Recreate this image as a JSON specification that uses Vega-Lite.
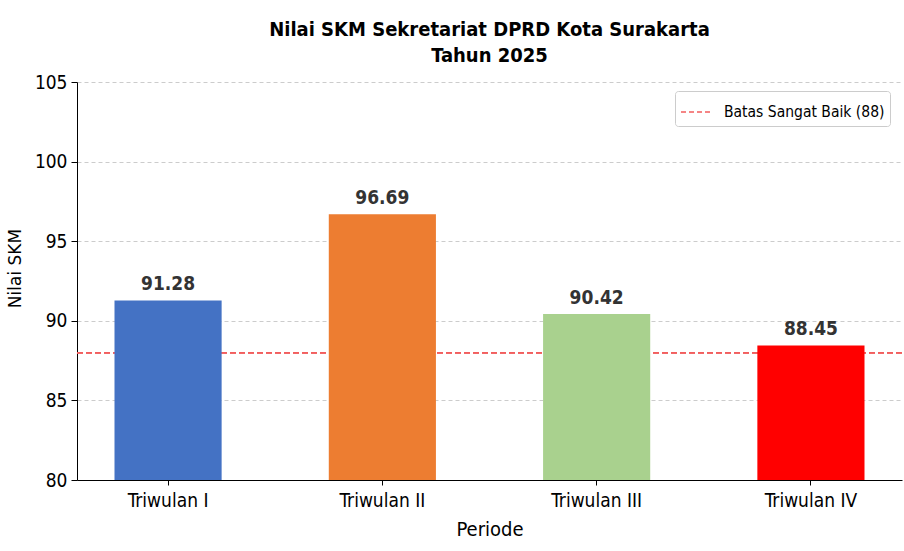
{
  "$schema": "https://vega.github.io/schema/vega-lite/v6.json",
  "width": 825,
  "height": 398,
  "autosize": {"type": "none"},
  "padding": {"left": 77, "top": 82, "right": 2, "bottom": 71},
  "background": "white",
  "config": {
    "view": {"stroke": null},
    "font": "DejaVu Sans Condensed"
  },
  "title": {
    "text": ["Nilai SKM Sekretariat DPRD Kota Surakarta", "Tahun 2025"],
    "font": "DejaVu Sans Condensed",
    "fontSize": 20,
    "fontWeight": "bold",
    "lineHeight": 26,
    "color": "black",
    "anchor": "middle",
    "offset": 7
  },
  "data": {
    "values": [
      {"Periode": "Triwulan I", "Nilai": 91.28},
      {"Periode": "Triwulan II", "Nilai": 96.69},
      {"Periode": "Triwulan III", "Nilai": 90.42},
      {"Periode": "Triwulan IV", "Nilai": 88.45}
    ]
  },
  "encoding": {
    "x": {
      "field": "Periode",
      "type": "nominal",
      "sort": null,
      "scale": {"paddingInner": 0.5, "paddingOuter": 0.175},
      "axis": {
        "title": "Periode",
        "labelAngle": 0,
        "labelFont": "DejaVu Sans Condensed",
        "labelFontSize": 19,
        "labelColor": "black",
        "labelPadding": 6,
        "titleFont": "DejaVu Sans Condensed",
        "titleFontSize": 20,
        "titleFontWeight": "normal",
        "titleColor": "black",
        "titlePadding": 9,
        "domainColor": "black",
        "domainWidth": 1,
        "tickColor": "black",
        "tickSize": 5,
        "grid": false
      }
    }
  },
  "layer": [
    {
      "mark": {"type": "rule", "strokeWidth": 1.5, "strokeDash": [6, 3]},
      "encoding": {
        "x": null,
        "y": {"datum": 88, "type": "quantitative"},
        "stroke": {
          "datum": "Batas Sangat Baik (88)",
          "type": "nominal",
          "scale": {"range": ["#f25e5e"]},
          "legend": {
            "title": null,
            "orient": "none",
            "legendX": 598,
            "legendY": 9,
            "symbolType": "stroke",
            "symbolDash": [5, 3],
            "symbolStrokeWidth": 1.5,
            "symbolSize": 900,
            "labelFont": "DejaVu Sans Condensed",
            "labelFontSize": 15.5,
            "labelLimit": 400,
            "labelOffset": 12,
            "labelColor": "black",
            "strokeColor": "#cccccc",
            "fillColor": "white",
            "cornerRadius": 3,
            "padding": 5
          }
        }
      }
    },
    {
      "mark": {"type": "bar", "clip": true},
      "encoding": {
        "y": {
          "field": "Nilai",
          "type": "quantitative",
          "scale": {"domain": [80, 105], "zero": false, "nice": false},
          "axis": {
            "title": "Nilai SKM",
            "values": [80, 85, 90, 95, 100, 105],
            "labelFont": "DejaVu Sans Condensed",
            "labelFontSize": 19,
            "labelColor": "black",
            "labelPadding": 4,
            "titleFont": "DejaVu Sans",
            "titleFontSize": 17,
            "titleFontWeight": "normal",
            "titleColor": "black",
            "titlePadding": 10,
            "titleY": 186,
            "domainColor": "black",
            "tickColor": "black",
            "tickSize": 6,
            "grid": true,
            "gridColor": "#cccccc",
            "gridDash": [4, 3],
            "gridWidth": 1
          }
        },
        "y2": {"datum": 80},
        "fill": {
          "field": "Periode",
          "type": "nominal",
          "sort": null,
          "scale": {"domain": ["Triwulan I", "Triwulan II", "Triwulan III", "Triwulan IV"], "range": ["#4472C4", "#ED7D31", "#A9D18E", "#FF0000"]},
          "legend": null
        }
      }
    },
    {
      "mark": {"type": "text", "baseline": "bottom", "dy": -6, "fontSize": 19, "fontWeight": "bold", "font": "DejaVu Sans Condensed", "color": "#333333"},
      "encoding": {
        "y": {"field": "Nilai", "type": "quantitative"},
        "text": {"field": "Nilai", "type": "quantitative", "format": ".2f"}
      }
    }
  ]
}
